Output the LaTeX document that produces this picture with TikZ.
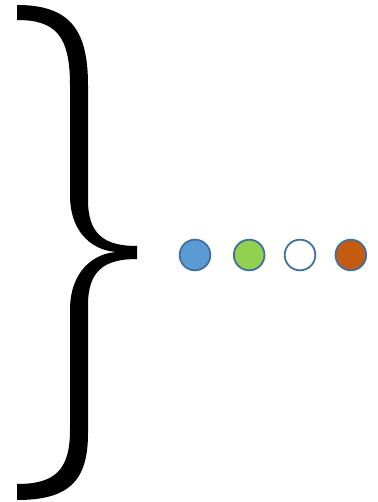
\documentclass[tikz,border=0pt]{standalone}
\usepackage{xcolor}
\usepackage{tikz}
\usetikzlibrary{positioning}

\definecolor{dotblue}{HTML}{5B9BD5}
\definecolor{dotgreen}{HTML}{92D050}
\definecolor{dotorange}{HTML}{C55A11}
\definecolor{dotedge}{HTML}{41719C}

\begin{document}
\begin{tikzpicture}[
        x=0.3mm, y=-0.3mm,
        node distance=0.55cm,
        dot/.style={circle, draw=dotedge, line width=0.55mm, minimum size=0.92cm, inner sep=0pt},
        brace/.style={fill=black}
    ]
    \useasboundingbox (0,0) rectangle (377,502);

    % big right brace
    \fill[brace] (17,5) .. controls (70,5) and (88,30) .. (88,85) -- (88,200)
        .. controls (88,235) and (105,246) .. (137,246) -- (137,259)
        .. controls (105,259) and (88,270) .. (88,305) -- (88,433)
        .. controls (88,480) and (70,500) .. (17,500) -- (17,484)
        .. controls (55,484) and (70,470) .. (70,430) -- (70,310)
        .. controls (70,270) and (95,253) .. (117,252)
        .. controls (95,251) and (70,235) .. (70,195) -- (70,85)
        .. controls (70,35) and (55,20) .. (17,20) -- cycle;

    \node[dot, fill=dotblue] (blue) at (195,255) {};
    \node[dot, fill=dotgreen, right=0.65cm of blue] (green) {};
    \node[dot, fill=white, right=0.55cm of green] (white) {};
    \node[dot, fill=dotorange, right=0.55cm of white] (orange) {};
\end{tikzpicture}
\end{document}
